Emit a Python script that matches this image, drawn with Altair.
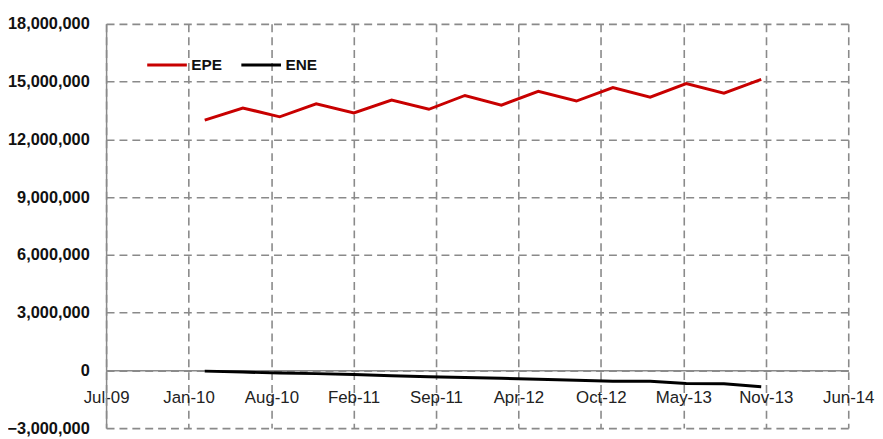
import altair as alt
import pandas as pd

dates = ["2010-03-06", "2010-06-06", "2010-09-03", "2010-11-30", "2011-03-01", "2011-05-31",
         "2011-08-29", "2011-11-24", "2012-02-20", "2012-05-19", "2012-08-19", "2012-11-15",
         "2013-02-13", "2013-05-11", "2013-08-10", "2013-11-08"]
epe = [13000000, 13630000, 13170000, 13850000, 13370000, 14040000, 13560000, 14280000,
       13780000, 14490000, 13990000, 14690000, 14190000, 14900000, 14400000, 15110000]
ene = [-40000, -90000, -140000, -170000, -220000, -280000, -330000, -370000,
       -410000, -460000, -510000, -560000, -565000, -680000, -700000, -850000]

x_ticks = [(2009, 7, 11), (2010, 1, 26), (2010, 8, 14), (2011, 2, 28), (2011, 9, 15),
           (2012, 4, 1), (2012, 10, 17), (2013, 5, 4), (2013, 11, 19), (2014, 6, 6)]
y_ticks = [-3000000, 0, 3000000, 6000000, 9000000, 12000000, 15000000, 18000000]
series_names = ["EPE", "ENE"]
series_colors = ["#C80000", "#000000"]

df = pd.concat([
    pd.DataFrame({"date": dates, "value": epe, "series": "EPE"}),
    pd.DataFrame({"date": dates, "value": ene, "series": "ENE"}),
])

tick_dt = [alt.DateTime(year=y, month=m, date=d, utc=True) for (y, m, d) in x_ticks]

grid_color = "#8a8a8a"

chart = alt.Chart(df).mark_line(strokeWidth=3).encode(
    x=alt.X("date:T",
            scale=alt.Scale(type="utc", domain=[tick_dt[0], tick_dt[-1]], nice=False),
            axis=alt.Axis(values=tick_dt, labelExpr="utcFormat(datum.value, '%b-%y')",
                          title=None,
                          offset=-58.3, tickSize=0, ticks=False, labelPadding=19,
                          labelFont="Liberation Sans", labelFontSize=17, labelColor="#222222",
                          domainColor=grid_color, domainWidth=1.5,
                          grid=True, gridColor=grid_color, gridDash=[8, 5], gridWidth=1.6,
                          labelFlush=False, labelOverlap=False)),
    y=alt.Y("value:Q",
            scale=alt.Scale(domain=[-3000000, 18000000], nice=False, zero=False),
            axis=alt.Axis(values=y_ticks, format=",.0f", title=None, ticks=False, tickSize=0,
                          labelPadding=17, labelFont="Liberation Sans", labelFontSize=16.5,
                          labelFontWeight="bold", labelColor="#111111",
                          domainColor=grid_color, domainWidth=1.5,
                          grid=True, gridColor=grid_color, gridDash=[8, 5], gridWidth=1.6,
                          labelOverlap=False)),
    color=alt.Color("series:N",
                    scale=alt.Scale(domain=series_names, range=series_colors),
                    sort=series_names,
                    legend=alt.Legend(title=None, orient="none", legendX=40, legendY=20,
                                      direction="horizontal", symbolType="stroke",
                                      symbolSize=1600, symbolStrokeWidth=3, padding=0,
                                      labelFont="Liberation Sans", labelFontSize=15.5,
                                      labelFontWeight="bold", labelColor="#111111",
                                      labelOffset=3, columnPadding=12)),
).properties(
    width=749,
    height=408,
    autosize=alt.AutoSizeParams(type="none"),
    padding={"left": 99, "top": 14, "right": 27, "bottom": 9},
).configure_view(strokeWidth=0)

chart.save("out.html", embed_options={"renderer": "svg", "actions": False})
